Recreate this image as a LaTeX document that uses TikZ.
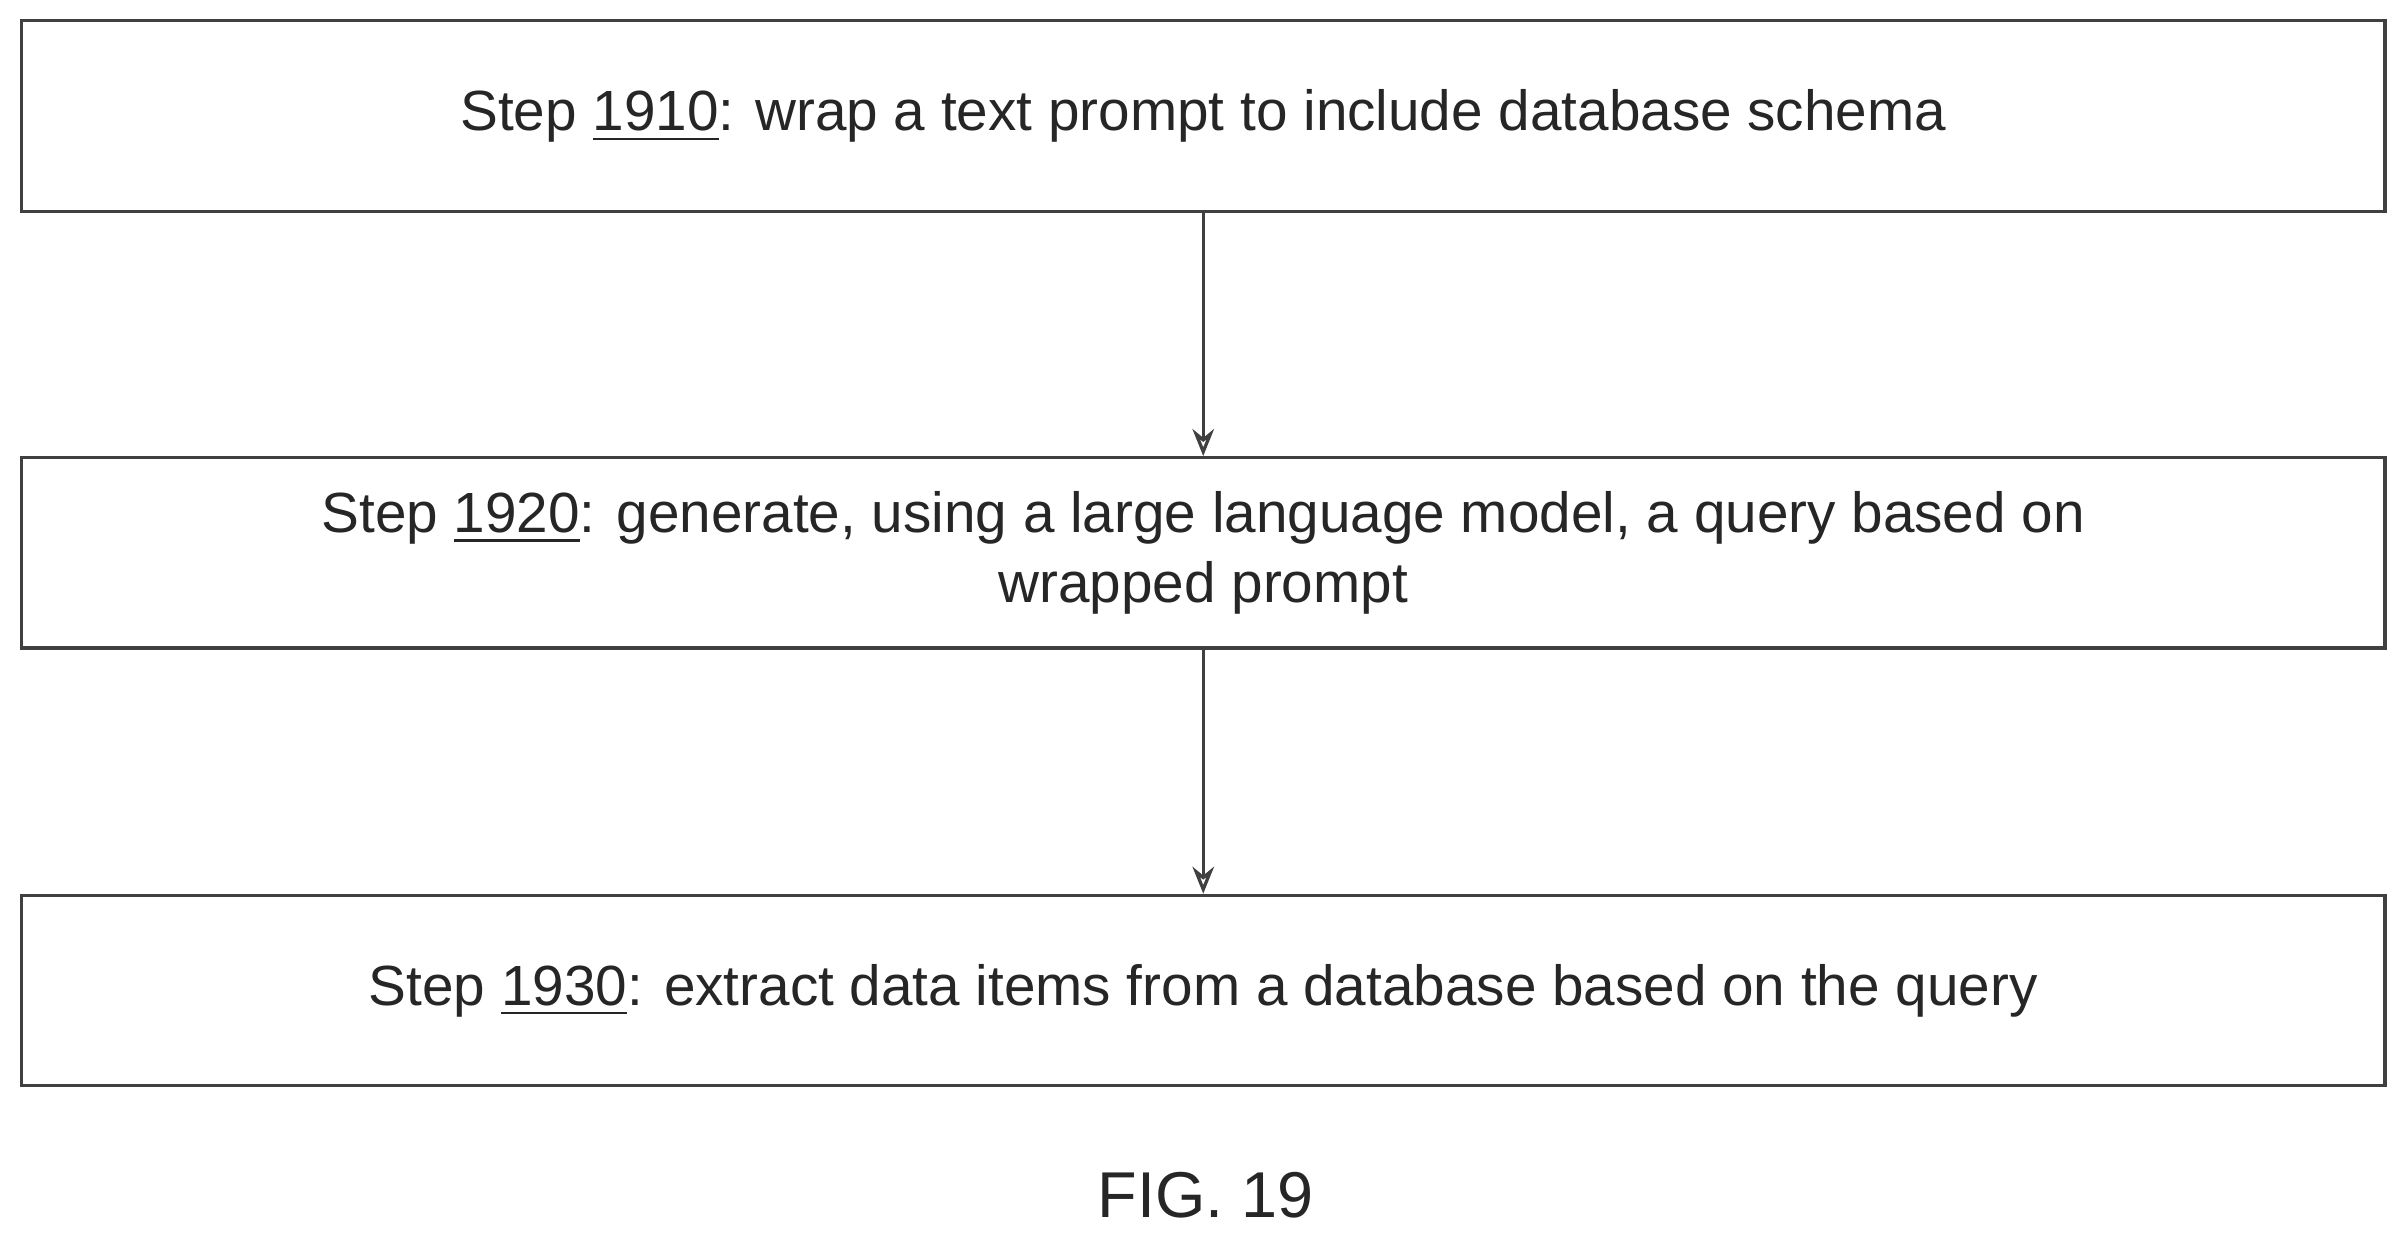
\documentclass[tikz,border=0pt]{standalone}
\usepackage{fontspec}
\setmainfont{Liberation Sans}
\usetikzlibrary{arrows.meta}
\begin{document}
\begin{tikzpicture}[
  box/.style={draw=black!75, line width=0.6pt, minimum width=15.39cm, minimum height=1.24cm, align=center, font=\fontsize{10.5}{13}\selectfont, text=black!85, inner sep=0pt},
  arr/.style={draw=black!75, line width=0.6pt, -{Stealth[open,length=5pt,width=4pt]}}]
\useasboundingbox (0,0) rectangle (15.68,-8.08);
\node[box] (s1) at (7.835,-0.755) {Step \underline{1910}: wrap a text prompt to include database schema};
\node[box] (s2) at (7.835,-3.60) {Step \underline{1920}: generate, using a large language model, a query based on\\wrapped prompt};
\node[box] (s3) at (7.835,-6.45) {Step \underline{1930}: extract data items from a database based on the query};
\node[font=\fontsize{12}{14}\selectfont, text=black!85] (fig) at (7.85,-7.78) {FIG. 19};
\draw[arr] (s1) -- (s2);
\draw[arr] (s2) -- (s3);
\end{tikzpicture}
\end{document}
